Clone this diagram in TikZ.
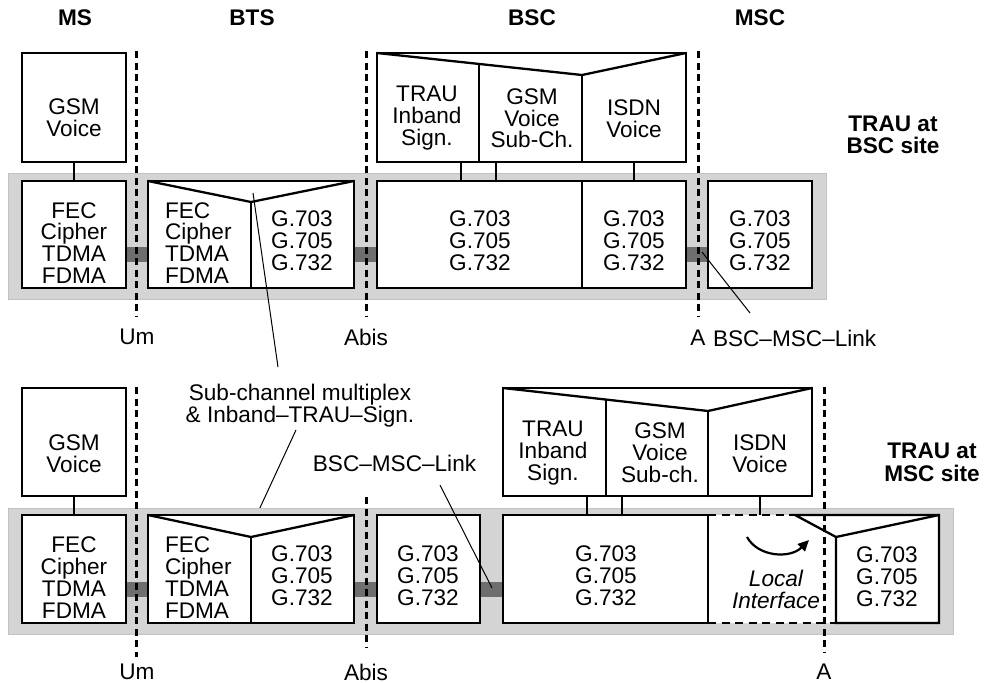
\documentclass[tikz,border=0pt]{standalone}
\usepackage{fontspec}
\setmainfont{Liberation Sans}
\usetikzlibrary{calc,arrows.meta}
\begin{document}
\begin{tikzpicture}[x=1pt,y=-1pt,
  every node/.style={font=\fontsize{22.6}{21.8}\selectfont, inner sep=0pt, outer sep=0pt},
  box/.style={draw, line width=2.4pt, fill=white},
  inner/.style={line width=2.3pt, line join=miter},
  conn/.style={line width=1.8pt},
  band/.style={fill=black!17, draw=black!24, line width=1pt},
  bar/.style={fill=black!57, minimum height=15},
  iface/.style={line width=3pt, dash pattern=on 7pt off 4.5pt},
  ldash/.style={line width=2pt, dash pattern=on 8pt off 5.5pt},
  leader/.style={line width=1pt},
  txt/.style={align=center},
  ttl/.style={align=center, font=\fontsize{22.6}{22.5}\selectfont\bfseries}]
\useasboundingbox (0,0) rectangle (986,683);

% ---------- top half ----------
\node[band, minimum width=818, minimum height=126] (bandT) at (417,236) {};
\node[bar, minimum width=22] (b1T) at (137,254.5) {};
\node[bar, minimum width=22] (b2T) at (365,254.5) {};
\node[bar, minimum width=22] (b3T) at (697,254.5) {};

\node[box, minimum width=104, minimum height=109] (msvT) at (74,107.5) {};
\node[box, minimum width=104, minimum height=107] (msfT) at (74,234.5) {};
\node[box, minimum width=206, minimum height=107] (btsT) at (251,234.5) {};
\node[box, minimum width=309, minimum height=109] (bscuT) at (531.5,107.5) {};
\node[box, minimum width=309, minimum height=107] (bscdT) at (531.5,234.5) {};
\node[box, minimum width=104, minimum height=107] (mscT) at (760,234.5) {};

% BTS funnel and divider
\coordinate (vT) at (251,202);
\draw[inner] (btsT.north west) -- (vT) -- (btsT.north east);
\draw[inner] (vT) -- (btsT.south);
% BSC upper funnel and dividers
\coordinate (vbT) at (582,75);
\coordinate (d1T) at (479,63.9);
\draw[inner] (bscuT.north west) -- (vbT) -- (bscuT.north east);
\draw[inner] (d1T) -- (bscuT.south -| d1T);
\draw[inner] (vbT) -- (bscuT.south -| vbT);
\draw[inner] (bscdT.north -| vbT) -- (bscdT.south -| vbT);

% connectors
\coordinate (c1) at (461,0);
\coordinate (c2) at (496,0);
\coordinate (c3) at (634,0);
\draw[conn] (msvT) -- (msfT);
\draw[conn] (bscuT.south -| c1) -- (bscdT.north -| c1);
\draw[conn] (bscuT.south -| c2) -- (bscdT.north -| c2);
\draw[conn] (bscuT.south -| c3) -- (bscdT.north -| c3);

% interfaces
\coordinate (umT1) at (136,51);  \coordinate (umT2) at (136,316);
\coordinate (abT1) at (366,51);  \coordinate (abT2) at (366,316);
\coordinate (aT1) at (698,51);   \coordinate (aT2) at (698,316);
\draw[iface] (umT1) -- (umT2);
\draw[iface] (abT1) -- (abT2);
\draw[iface] (aT1) -- (aT2);

% texts top
\node[ttl] (tMS) at (75,18) {MS};
\node[ttl] (tBTS) at (252,18) {BTS};
\node[ttl] (tBSC) at (532,18) {BSC};
\node[ttl] (tMSC) at (760,18) {MSC};
\node[ttl] (siteT) at (893,135) {TRAU at\\BSC site};

\node[txt] at (74,118) {GSM\\Voice};
\node[txt] at (74,243) {FEC\\Cipher\\TDMA\\FDMA};
\node[align=left, anchor=west] at (165,243) {FEC\\Cipher\\TDMA\\FDMA};
\node[txt] at (302,241) {G.703\\G.705\\G.732};
\node[txt] at (427,118.3) {TRAU\\Inband\\Sign.};
\node[txt] at (532,118.3) {GSM\\Voice\\Sub-Ch.};
\node[txt] at (634,118.5) {ISDN\\Voice};
\node[txt] at (480,241) {G.703\\G.705\\G.732};
\node[txt] at (634,241) {G.703\\G.705\\G.732};
\node[txt] at (760,241) {G.703\\G.705\\G.732};

\node (umT) at (137,337) {Um};
\node (abT) at (366,337) {Abis};
\node (aT) at (698,338) {A};
\node[anchor=west] (lnkT) at (713,338) {BSC–MSC–Link};
\coordinate (lkT) at (750,313);
\draw[leader] (lkT) -- (702,252);

% sub-channel label
\node[txt] (sub) at (300,405.3) {Sub-channel multiplex\\\& Inband–TRAU–Sign.};
\coordinate (s1a) at (253,193);
\coordinate (s1b) at (278,367);
\coordinate (s2a) at (296,430);
\coordinate (s2b) at (252,525);
\draw[leader] (s1a) -- (s1b);
\draw[leader] (s2a) -- (s2b);

% ---------- bottom half ----------
\node[band, minimum width=945, minimum height=126] (bandB) at (480.5,571) {};
\node[bar, minimum width=22] (b1B) at (137,589.5) {};
\node[bar, minimum width=22] (b2B) at (365,589.5) {};
\node[bar, minimum width=23] (b3B) at (491.5,589.5) {};

% local interface region
\fill[white] (708,515) -- (795,515) -- (836,537) -- (836,623) -- (708,623) -- cycle;

\node[box, minimum width=104, minimum height=108] (msvB) at (74,442) {};
\node[box, minimum width=104, minimum height=108] (msfB) at (74,569) {};
\node[box, minimum width=206, minimum height=108] (btsB) at (251,569) {};
\node[box, minimum width=103, minimum height=108] (bscsB) at (428.5,569) {};
\node[box, minimum width=205, minimum height=108] (bscbB) at (605.5,569) {};
\node[box, minimum width=309, minimum height=108] (bscuB) at (657.5,442) {};
\node[minimum width=103, minimum height=86] (mscB) at (887.5,580) {};

% MSC box with funnel
\coordinate (fm) at (795,515);
\coordinate (ftr) at (939,515);
\draw[inner, fill=white] (fm) -- (ftr) -- (mscB.south east) -- (mscB.south west) -- (mscB.north west) -- cycle;
\draw[inner] (mscB.north west) -- (ftr);

% BTS funnel
\coordinate (vB) at (251,537);
\draw[inner] (btsB.north west) -- (vB) -- (btsB.north east);
\draw[inner] (vB) -- (btsB.south);
% BSC upper funnel
\coordinate (vbB) at (708,411);
\coordinate (d1B) at (606,399.6);
\draw[inner] (bscuB.north west) -- (vbB) -- (bscuB.north east);
\draw[inner] (d1B) -- (bscuB.south -| d1B);
\draw[inner] (vbB) -- (bscuB.south -| vbB);

% connectors
\coordinate (c4) at (587,0);
\coordinate (c5) at (622,0);
\coordinate (li) at (760,515);
\draw[conn] (msvB) -- (msfB);
\draw[conn] (bscuB.south -| c4) -- (bscbB.north -| c4);
\draw[conn] (bscuB.south -| c5) -- (bscbB.north -| c5);
\draw[conn] (bscuB.south -| li) -- (li);

% local interface dashes
\draw[ldash] (bscbB.north east) -- (fm);
\draw[ldash] (bscbB.south east) -- (mscB.south west);

% interfaces
\coordinate (umB1) at (136,387); \coordinate (umB2) at (136,657);
\coordinate (abB1) at (366,497); \coordinate (abB2) at (366,648);
\coordinate (aB1) at (824,387);  \coordinate (aB2) at (824,652);
\draw[iface] (umB1) -- (umB2);
\draw[iface] (abB1) -- (abB2);
\draw[iface] (aB1) -- (aB2);

% curved arrow
\coordinate (arA) at (747,537);
\coordinate (arB) at (809,540);
\draw[line width=2.2pt, -{Triangle[length=11pt,width=10pt]}] (arA) .. controls (758,557) and (790,559) .. (arB);

% texts bottom
\node[ttl] (siteB) at (932,462.5) {TRAU at\\MSC site};
\node[txt] at (74,453.5) {GSM\\Voice};
\node[txt] at (74,577.5) {FEC\\Cipher\\TDMA\\FDMA};
\node[align=left, anchor=west] at (165,577.5) {FEC\\Cipher\\TDMA\\FDMA};
\node[txt] at (302,576) {G.703\\G.705\\G.732};
\node[txt] at (428,576) {G.703\\G.705\\G.732};
\node[txt] at (606,576) {G.703\\G.705\\G.732};
\node[txt] at (553,452.8) {TRAU\\Inband\\Sign.};
\node[txt] at (660,452.8) {GSM\\Voice\\Sub-ch.};
\node[txt] at (760,454) {ISDN\\Voice};
\node[txt, font=\fontsize{22.6}{21.5}\selectfont\itshape] (loc) at (776,589.5) {Local\\Interface};
\node[txt] at (887,576.5) {G.703\\G.705\\G.732};

\node (umB) at (137,672) {Um};
\node (abB) at (366,672) {Abis};
\node (aB) at (824,672) {A};
\node (lnkB) at (394.5,463) {BSC–MSC–Link};
\coordinate (lkB1) at (440,485);
\coordinate (lkB2) at (492,588);
\draw[leader] (lkB1) -- (lkB2);
\end{tikzpicture}
\end{document}
